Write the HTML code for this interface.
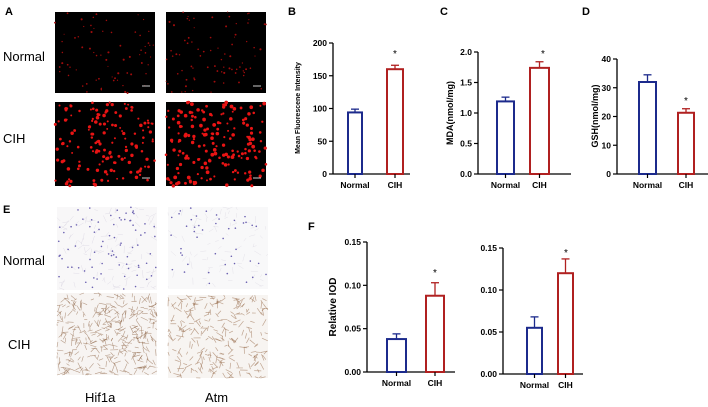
<!DOCTYPE html>
<html><head><meta charset="utf-8"><style>
html,body{margin:0;padding:0;background:#fff;width:708px;height:407px;overflow:hidden}
svg{display:block;font-family:"Liberation Sans",Arial,sans-serif}
</style></head><body>
<svg id="s" width="708" height="407" viewBox="0 0 708 407">
<g font-weight="bold" font-size="11" fill="#000">
<text x="5" y="15">A</text><text x="288" y="15">B</text><text x="440" y="15">C</text><text x="582" y="15">D</text>
<text x="3" y="213">E</text><text x="308" y="230">F</text>
</g>
<g font-size="13" fill="#000">
<text x="3" y="61">Normal</text><text x="3" y="143">CIH</text>
<text x="3" y="265">Normal</text><text x="8" y="349">CIH</text>
<text x="85" y="402">Hif1a</text><text x="205" y="402">Atm</text>
</g>
<rect x="55" y="12" width="100" height="81" fill="#000"/>
<rect x="166" y="12" width="100" height="81" fill="#000"/>
<rect x="55" y="102" width="100" height="84" fill="#000"/>
<rect x="166" y="102" width="100" height="84" fill="#000"/>
<g id="dots"></g>
<rect x="57" y="207" width="100" height="83" fill="#f8f7f8"/>
<rect x="168" y="207" width="100" height="82" fill="#f8f8f9"/>
<rect x="57" y="293" width="100" height="82" fill="#f7f4f2"/>
<rect x="168" y="295" width="100" height="83" fill="#f7f4f1"/>
<g id="tis"></g>
<g id="charts" font-weight="bold" font-size="8.5" fill="#000"></g>
</svg>
<script>
var s=1;function r(){s=(s*16807)%2147483647;return s/2147483647;}
var NS="http://www.w3.org/2000/svg";
function el(p,t,a){var e=document.createElementNS(NS,t);for(var k in a)e.setAttribute(k,a[k]);p.appendChild(e);return e;}
var d=document.getElementById('dots');
function red(x,y,w,h,n,rad,col){for(var i=0;i<n;i++)el(d,'circle',{cx:x+r()*w,cy:y+r()*h,r:rad*(0.6+r()*0.6),fill:col});}
red(55,12,100,81,70,0.9,'#a00c0c');red(166,12,100,81,80,0.9,'#a00c0c');
red(55,102,100,84,150,1.5,'#e81414');red(166,102,100,84,180,1.6,'#e81414');
[[142,86],[253,86],[142,178],[253,178]].forEach(function(p){el(d,'line',{x1:p[0],y1:p[1],x2:p[0]+8,y2:p[1],stroke:'#ccc','stroke-width':1});});
var t=document.getElementById('tis');
function tis(x,y,w,h,n,col,sw,dot,op){for(var i=0;i<n;i++){var a=x+r()*w,b=y+r()*h,ang=r()*6.28,l=3+r()*5;var a2=Math.min(x+w,Math.max(x,a+Math.cos(ang)*l)),b2=Math.min(y+h,Math.max(y,b+Math.sin(ang)*l));el(t,'line',{x1:a,y1:b,x2:a2,y2:b2,stroke:col,'stroke-width':sw,opacity:op});}
for(var i=0;i<dot;i++)el(t,'circle',{cx:x+r()*w,cy:y+r()*h,r:0.8,fill:'#6a60b0'});}
tis(57,207,100,83,110,'#c8c2d4',0.4,80,0.6);tis(168,207,100,82,80,'#cfcad8',0.4,45,0.6);
tis(57,293,100,82,380,'#8a6040',0.6,0,0.6);tis(168,295,100,83,260,'#9a7050',0.7,0,0.6);
var c=document.getElementById('charts');
function chart(o){var ax=o.ax,y0=o.y0,y1=o.y1,mx=o.max;function Y(v){return y0-(y0-y1)*v/mx;}
el(c,'line',{x1:ax,y1:y1,x2:ax,y2:y0,stroke:'#000','stroke-width':1.3});
el(c,'line',{x1:ax,y1:y0,x2:o.xe,y2:y0,stroke:'#000','stroke-width':1.3});
o.ticks.forEach(function(tk){var y=Y(tk[0]);el(c,'line',{x1:ax-4,y1:y,x2:ax,y2:y,stroke:'#000','stroke-width':1.2});var tx=el(c,'text',{x:ax-6,y:y+3,'text-anchor':'end'});tx.textContent=tk[1];});
o.bars.forEach(function(b,i){var col=i?'#b02020':'#1c2a8c';var cx=(b[0]+b[1])/2;
el(c,'line',{x1:cx,y1:Y(b[3]),x2:cx,y2:Y(b[2]),stroke:col,'stroke-width':1.3});
el(c,'line',{x1:cx-4,y1:Y(b[3]),x2:cx+4,y2:Y(b[3]),stroke:col,'stroke-width':1.3});
el(c,'rect',{x:b[0],y:Y(b[2]),width:b[1]-b[0],height:y0-Y(b[2]),fill:'#fff',stroke:col,'stroke-width':2});
el(c,'line',{x1:cx,y1:y0,x2:cx,y2:y0+4,stroke:'#000','stroke-width':1.2});
var tx=el(c,'text',{x:cx,y:y0+14,'text-anchor':'middle'});tx.textContent=i?'CIH':'Normal';});
var st=el(c,'text',{x:o.star[0],y:o.star[1],'text-anchor':'middle','font-size':10,'font-weight':'normal'});st.textContent='*';
var yl=el(c,'text',{transform:'translate('+o.yl[0]+','+o.yl[1]+') rotate(-90)','text-anchor':'middle','font-size':o.yl[2]});yl.textContent=o.label;}
chart({ax:333,y0:174,y1:43,max:200,xe:410,ticks:[[0,'0'],[50,'50'],[100,'100'],[150,'150'],[200,'200']],bars:[[348,362,94,99],[387,403,160,166]],star:[395,57],yl:[300,108,7],label:'Mean Fluorescene Intensity'});
chart({ax:478,y0:174,y1:52,max:2,xe:571,ticks:[[0,'0.0'],[0.5,'0.5'],[1,'1.0'],[1.5,'1.5'],[2,'2.0']],bars:[[497,514,1.19,1.26],[530,549,1.74,1.84]],star:[543,57],yl:[453,113,9],label:'MDA(nmol/mg)'});
chart({ax:617,y0:174,y1:59,max:40,xe:708,ticks:[[0,'0'],[10,'10'],[20,'20'],[30,'30'],[40,'40']],bars:[[639,656,32,34.5],[678,694,21.3,22.7]],star:[686,104],yl:[598,116,9],label:'GSH(nmol/mg)'});
chart({ax:367,y0:372,y1:242,max:0.15,xe:455,ticks:[[0,'0.00'],[0.05,'0.05'],[0.1,'0.10'],[0.15,'0.15']],bars:[[387,406,0.038,0.044],[426,444,0.088,0.103]],star:[435,276],yl:[336,307,10],label:'Relative IOD'});
chart({ax:503,y0:374,y1:248,max:0.15,xe:583,ticks:[[0,'0.00'],[0.05,'0.05'],[0.1,'0.10'],[0.15,'0.15']],bars:[[527,542,0.055,0.068],[558,573,0.12,0.137]],star:[566,256],yl:[0,0,1],label:''});
</script>
</body></html>
